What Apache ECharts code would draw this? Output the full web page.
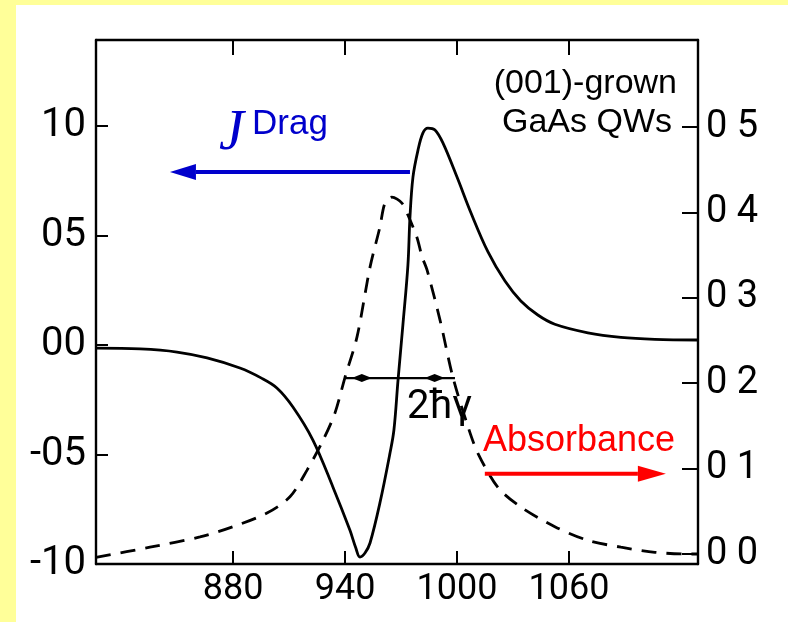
<!DOCTYPE html>
<html>
<head>
<meta charset="utf-8">
<script src="https://cdn.jsdelivr.net/npm/echarts@6/dist/echarts.min.js"></script>
<style>
html,body{margin:0;padding:0;background:#fff;}
#chart{width:788px;height:622px;}
</style>
</head>
<body>
<div id="chart"></div>
<script>
// ---- data ----
// J^Drag (solid, left axis)
const dragX = [806.6, 830.2, 850.0, 866.1, 883.7, 895.0, 903.5, 912.1, 922.8, 933.5, 942.6, 945.8, 948.0, 950.7, 953.4, 958.7, 964.1, 966.2, 968.4, 971.0, 973.7, 974.8, 976.4, 979.1, 981.7, 984.4, 988.2, 992.5, 1000.0, 1007.5, 1016.6, 1025.7, 1034.2, 1043.3, 1052.4, 1070.1, 1087.8, 1106.0, 1129.0];
const dragY = [-0.014, -0.018, -0.032, -0.059, -0.105, -0.150, -0.196, -0.283, -0.434, -0.648, -0.845, -0.927, -0.968, -0.950, -0.904, -0.721, -0.493, -0.388, -0.160, 0.091, 0.365, 0.584, 0.767, 0.890, 0.968, 0.991, 0.982, 0.922, 0.767, 0.603, 0.425, 0.292, 0.201, 0.137, 0.095, 0.056, 0.035, 0.026, 0.023];
// Absorbance (dashed, right axis)
const absX = [806.6, 835.5, 862.3, 880.0, 898.2, 910.5, 919.6, 928.2, 934.6, 940.0, 946.4, 953.4, 958.7, 961.4, 965.1, 970.5, 973.7, 978.5, 981.3, 983.9, 990.9, 997.8, 1005.9, 1011.2, 1021.9, 1034.2, 1052.4, 1070.1, 1087.8, 1106.0, 1123.7, 1129.0];
const absY = [-0.004, 0.008, 0.020, 0.032, 0.048, 0.067, 0.098, 0.133, 0.165, 0.207, 0.254, 0.336, 0.383, 0.411, 0.418, 0.411, 0.397, 0.371, 0.348, 0.333, 0.274, 0.207, 0.149, 0.118, 0.078, 0.055, 0.032, 0.016, 0.008, 0.002, 0.000, 0.000];

// ticks
const xTickValues = [880, 940, 1000, 1060];
const xTickLabels = ['880', '940', '1000', '1060'];
const leftTickValues = [-1, -0.5, 0, 0.5, 1];
const leftTickLabels = ['-10', '-05', '00', '05', '10'];
const rightTickValues = [0, 0.1, 0.2, 0.3, 0.4, 0.5];
const rightTickLabels = ['0 0', '0 1', '0 2', '0 3', '0 4', '0 5'];

// annotations (data coordinates)
const dragArrow = [[974.8, 0.79], [846.2, 0.79]];      // left axis
const absArrow = [[1014.9, 0.094], [1111.9, 0.094]];   // right axis
const fwhmLine = [[940.0, 0.206], [998.9, 0.206]];     // right axis
const fwhmHeads = [[949.0, 0.206], [988.0, 0.206]];

function lab(vals, labs) {
  return function (v) {
    for (let i = 0; i < vals.length; i++) if (Math.abs(vals[i] - v) < 1e-6) return labs[i];
    return '';
  };
}

const chart = echarts.init(document.getElementById('chart'), null, {renderer: 'canvas'});
const tickFont = {color: '#000', fontFamily: 'Roboto', fontWeight: 'normal', fontSize: 40};
const axisLine = {show: true, onZero: false, lineStyle: {color: '#000', width: 2.4}};

const option = {
  backgroundColor: '#ffffff',
  animation: false,
  grid: {left: 96, right: 90, top: 40, bottom: 58, containLabel: false},
  xAxis: [
    {type: 'value', position: 'bottom', min: 806.6, max: 1129.1,
     axisLine: axisLine, splitLine: {show: false},
     axisTick: {show: true, inside: true, length: 13, customValues: xTickValues, lineStyle: {color: '#000', width: 2}},
     axisLabel: {show: true, margin: 8, customValues: xTickValues, formatter: lab(xTickValues, xTickLabels), ...tickFont, fontSize: 36}},
    {type: 'value', position: 'top', min: 806.6, max: 1129.1,
     axisLine: axisLine, splitLine: {show: false},
     axisTick: {show: true, inside: true, length: 15, customValues: xTickValues, lineStyle: {color: '#000', width: 2}},
     axisLabel: {show: false}}
  ],
  yAxis: [
    {type: 'value', position: 'left', min: -1, max: 1.393,
     axisLine: axisLine, splitLine: {show: false},
     axisTick: {show: true, inside: true, length: 12, customValues: leftTickValues, lineStyle: {color: '#000', width: 2}},
     axisLabel: {show: true, margin: 10, customValues: leftTickValues, formatter: lab(leftTickValues, leftTickLabels), ...tickFont}},
    {type: 'value', position: 'right', min: -0.0117, max: 0.602,
     axisLine: axisLine, splitLine: {show: false},
     axisTick: {show: true, inside: true, length: 16, customValues: rightTickValues, lineStyle: {color: '#000', width: 2}},
     axisLabel: {show: true, margin: 8, customValues: rightTickValues, formatter: lab(rightTickValues, rightTickLabels), ...tickFont, fontSize: 38}}
  ],
  series: [
    {name: 'JDrag', type: 'line', xAxisIndex: 0, yAxisIndex: 0, showSymbol: false, symbol: 'none',
     smooth: 0.35, data: dragX.map((x, i) => [x, dragY[i]]),
     lineStyle: {color: '#000', width: 2.8}},
    {name: 'Absorbance', type: 'line', xAxisIndex: 0, yAxisIndex: 1, showSymbol: false, symbol: 'none',
     smooth: 0.3, data: absX.map((x, i) => [x, absY[i]]),
     lineStyle: {color: '#000', width: 2.8, type: [15, 10]}}
  ]
};
chart.setOption(option);

function px(pt, yIdx) { return chart.convertToPixel({xAxisIndex: 0, yAxisIndex: yIdx}, pt); }

function arrow(p0, p1, color, w, headLen, headHalf) {
  const dx = p1[0] - p0[0], dy = p1[1] - p0[1];
  const L = Math.sqrt(dx * dx + dy * dy), ux = dx / L, uy = dy / L;
  const bx = p1[0] - ux * headLen, by = p1[1] - uy * headLen;
  return [
    {type: 'line', shape: {x1: p0[0], y1: p0[1], x2: bx, y2: by}, style: {stroke: color, lineWidth: w}, z: 10},
    {type: 'polygon', shape: {points: [[p1[0], p1[1]], [bx - uy * headHalf, by + ux * headHalf], [bx + uy * headHalf, by - ux * headHalf]]},
     style: {fill: color}, z: 10}
  ];
}

const blue = '#0000cc', red = '#ff0000';
const d0 = px(dragArrow[0], 0), d1 = px(dragArrow[1], 0);
const a0 = px(absArrow[0], 1), a1 = px(absArrow[1], 1);
const f0 = px(fwhmLine[0], 1), f1 = px(fwhmLine[1], 1);
const h0 = px(fwhmHeads[0], 1), h1 = px(fwhmHeads[1], 1);

function diamond(c, len, half) {
  return {type: 'polygon', shape: {points: [[c[0] - len / 2, c[1]], [c[0], c[1] - half], [c[0] + len / 2, c[1]], [c[0], c[1] + half]]},
          style: {fill: '#000'}, z: 10};
}

const graphics = [
  {type: 'rect', shape: {x: 0, y: 0, width: 16, height: 622}, style: {fill: '#ffff99'}, z: -10, silent: true},
  {type: 'rect', shape: {x: 0, y: 0, width: 788, height: 5}, style: {fill: '#ffff99'}, z: -10, silent: true},
  ...arrow(d0, d1, blue, 4, 26, 8),
  ...arrow(a0, a1, red, 4, 28, 8),
  {type: 'line', shape: {x1: f0[0], y1: f0[1], x2: f1[0], y2: f1[1]}, style: {stroke: '#000', lineWidth: 2.4}, z: 10},
  diamond(h0, 20, 4), diamond(h1, 20, 4),
  {type: 'text', x: 407, y: 408, style: {text: '2ħγ', fill: '#000', font: '40px Roboto', verticalAlign: 'middle', align: 'left'}, z: 10},
  {type: 'text', x: 219, y: 134, style: {text: 'J', fill: blue, font: 'italic 56px "Liberation Serif"', verticalAlign: 'middle', align: 'left'}, z: 10},
  {type: 'text', x: 252, y: 124, style: {text: 'Drag', fill: blue, font: '35px "Liberation Sans"', verticalAlign: 'middle', align: 'left'}, z: 10},
  {type: 'text', x: 677, y: 84, style: {text: '(001)-grown', fill: '#000', font: '34px "Liberation Sans"', verticalAlign: 'middle', align: 'right'}, z: 10},
  {type: 'text', x: 672, y: 123, style: {text: 'GaAs QWs', fill: '#000', font: '34px "Liberation Sans"', verticalAlign: 'middle', align: 'right'}, z: 10},
  {type: 'text', x: 483, y: 441, style: {text: 'Absorbance', fill: red, font: '36px "Liberation Sans"', verticalAlign: 'middle', align: 'left'}, z: 10}
];
chart.setOption({graphic: graphics});
</script>
</body>
</html>
